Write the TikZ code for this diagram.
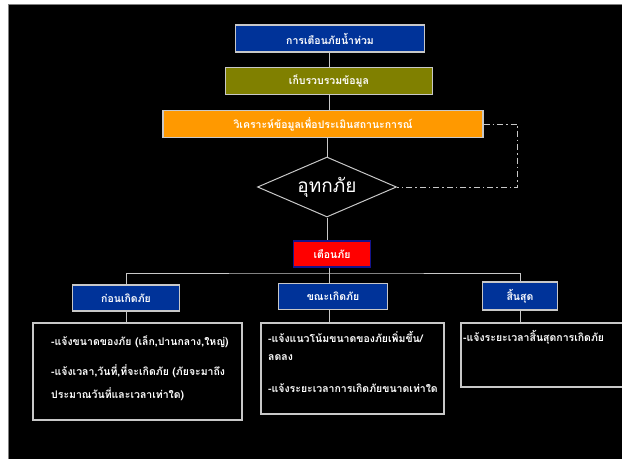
\documentclass[tikz,border=0pt]{standalone}
\usepackage{fontspec}
\newfontfamily\thaifont[Script=Thai]{Loma}
\usetikzlibrary{shapes.geometric}

\definecolor{frame}{RGB}{200,200,200}
\definecolor{deepblue}{RGB}{0,51,153}
\definecolor{olivebox}{RGB}{128,128,0}
\definecolor{orangebox}{RGB}{255,153,0}
\definecolor{navyline}{RGB}{20,20,140}

\begin{document}
\begin{tikzpicture}[
    x=1pt, y=-1pt,
  box/.style={draw=frame, line width=1.2pt, text=white, inner sep=0pt,
              font=\thaifont\bfseries\fontsize{10.5}{12}\selectfont},
  note/.style={draw=frame, line width=1.2pt, inner sep=0pt},
  ntext/.style={anchor=west, text=white, inner sep=0pt,
                font=\thaifont\bfseries\fontsize{10.5}{12}\selectfont},
  link/.style={draw=frame, line width=1pt},
  dashdot/.style={draw=frame, line width=1pt,
                  dash pattern=on 6pt off 3pt on 1.5pt off 3pt}
]
% --- page and black background ---
\useasboundingbox (0,0) rectangle (622,459);
\fill[white] (0,0) rectangle (622,459);
\fill[black] (8,4) rectangle (622,459);
\draw[gray, line width=1pt] (8,459) -- (8,4) -- (622,4);

% --- main column ---
\node[box, fill=deepblue, minimum width=189pt, minimum height=27pt] (warn) at (330,38.5) {การเตือนภัยน้ำท่วม};
\node[box, fill=olivebox, minimum width=207pt, minimum height=27pt] (collect) at (329,81) {เก็บรวบรวมข้อมูล};
\node[box, fill=orangebox, minimum width=320pt, minimum height=27pt] (analyse) at (323,124) {วิเคราะห์ข้อมูลเพื่อประเมินสถานะการณ์};
\node[diamond, draw=frame, line width=1pt, text=white, inner sep=0pt,
      minimum width=139pt, minimum height=60pt, text height=11pt, text depth=0pt,
      font=\thaifont\fontsize{19}{21}\selectfont] (flood) at (327,187) {\makebox[0pt]{อุทกภัย}};
\node[box, fill=red, draw=navyline, minimum width=77pt, minimum height=26pt] (alert) at (332,254) {เตือนภัย};
\coordinate (bar) at (329,273);

% --- three stages ---
\node[box, fill=deepblue, minimum width=107pt, minimum height=26pt] (before) at (126,298) {ก่อนเกิดภัย};
\node[box, fill=deepblue, minimum width=109pt, minimum height=26pt] (during) at (333,296.5) {ขณะเกิดภัย};
\node[box, fill=deepblue, minimum width=75pt, minimum height=28pt] (after) at (520,296) {สิ้นสุด};

% --- detail boxes ---
\node[note, minimum width=209pt, minimum height=97pt] (notesA) at (137.5,371.5) {};
\node[note, minimum width=183pt, minimum height=91pt] (notesB) at (352.5,368.5) {};
\node[note, minimum width=166pt, minimum height=64pt] (notesC) at (544,355) {};

\node[ntext] (a1) at (51,342) {-แจ้งขนาดของภัย (เล็ก,ปานกลาง,ใหญ่)};
\node[ntext] (a2) at (51,371) {-แจ้งเวลา,วันที่,ที่จะเกิดภัย (ภัยจะมาถึง};
\node[ntext] (a3) at (51,394) {ประมาณวันที่และเวลาเท่าใด)};
\node[ntext] (b1) at (268,337) {-แจ้งแนวโน้มขนาดของภัยเพิ่มขึ้น/};
\node[ntext] (b2) at (268,358) {ลดลง};
\node[ntext] (b3) at (268,388) {-แจ้งระยะเวลาการเกิดภัยขนาดเท่าใด};
\node[ntext] (c1) at (463,337) {-แจ้งระยะเวลาสิ้นสุดการเกิดภัย};

% --- connectors ---
\draw[link] (warn.south -| collect) -- (collect);
\draw[link] (collect) -- (collect |- analyse.north);
\draw[link] (analyse.south -| flood) -- (flood);
\draw[link] (flood) -- (flood |- alert.north);
\draw[link] (alert.south -| bar) -- (bar);
\draw[link] (before) |- (bar) -| (after);
\draw[link] (bar) -- (bar |- during.north);
\draw[link] (before) -- (before |- notesA.north);
\draw[link] (during.south -| bar) -- (bar |- notesB.north);
\draw[link] (after) -- (after |- notesC.north);
\draw[dashdot] (analyse.east) -- ++(34,0) |- (flood.east);
\end{tikzpicture}
\end{document}
